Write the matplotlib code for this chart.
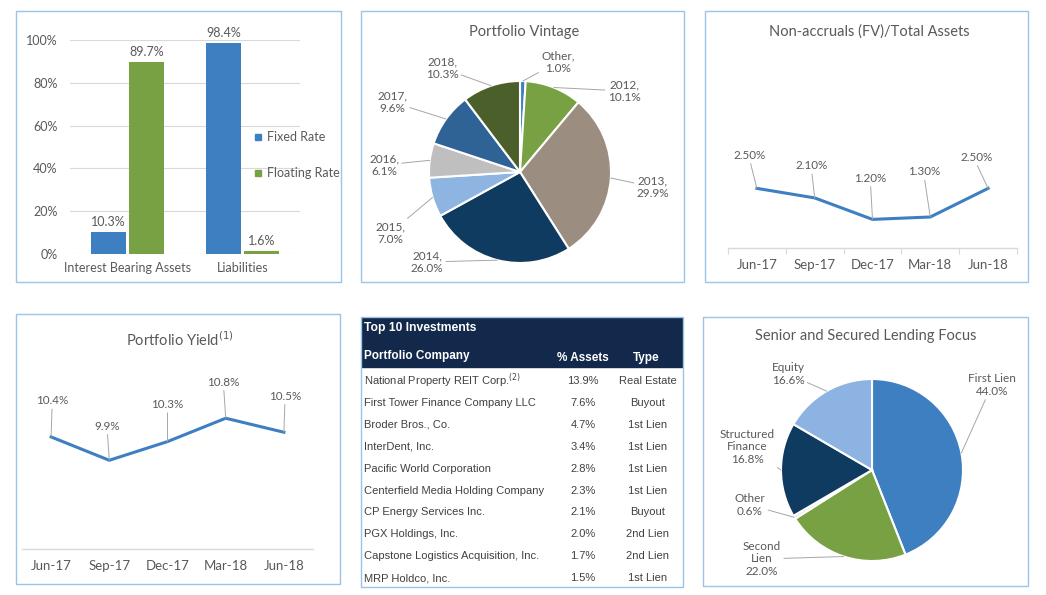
import numpy as np
import matplotlib
matplotlib.use('Agg')
import matplotlib.pyplot as plt
from matplotlib.patches import Rectangle
from matplotlib.lines import Line2D

plt.rcParams['font.family'] = ['Lato', 'DejaVu Sans']

# ---------------- data ----------------
rate_cats = ['Interest Bearing Assets', 'Liabilities']
fixed_rate = [10.3, 98.4]
floating_rate = [89.7, 1.6]

vintage_cats = ['Other', '2012', '2013', '2014', '2015', '2016', '2017', '2018']
vintage_vals = [1.0, 10.1, 29.9, 26.0, 7.0, 6.1, 9.6, 10.3]

quarters = ['Jun-17', 'Sep-17', 'Dec-17', 'Mar-18', 'Jun-18']
nonaccrual = [2.50, 2.10, 1.20, 1.30, 2.50]
port_yield = [10.4, 9.9, 10.3, 10.8, 10.5]

companies = ['National Property REIT Corp.$^{(2)}$', 'First Tower Finance Company LLC',
             'Broder Bros., Co.', 'InterDent, Inc.', 'Pacific World Corporation',
             'Centerfield Media Holding Company', 'CP Energy Services Inc.',
             'PGX Holdings, Inc.', 'Capstone Logistics Acquisition, Inc.', 'MRP Holdco, Inc.']
pct_assets = [13.9, 7.6, 4.7, 3.4, 2.8, 2.3, 2.1, 2.0, 1.7, 1.5]
inv_type = ['Real Estate', 'Buyout', '1st Lien', '1st Lien', '1st Lien', '1st Lien',
            'Buyout', '2nd Lien', '2nd Lien', '1st Lien']

lending_cats = ['First Lien', 'Second\nLien', 'Other', 'Structured\nFinance', 'Equity']
lending_vals = [44.0, 22.0, 0.6, 16.8, 16.6]

# ---------------- style ----------------
W, H = 1046, 595
gray = '#595959'
grid = '#D9D9D9'
border = '#9DC3E6'
lead = '#A6A6A6'
blue = '#3E7FC1'
green = '#78A143'
vintage_colors = ['#3E7FC1', '#78A143', '#9B8D80', '#0F3B60', '#8EB4E1', '#BFBFBF', '#2F6396', '#4B5F2A']
lending_colors = ['#3E7FC1', '#78A143', '#E7E6E6', '#0F3B60', '#8DB3E2']


def box(x0, y0, x1, y1):
    # image pixel coords (top-left origin) -> figure fraction rect
    return [x0 / W, 1 - y1 / H, (x1 - x0) / W, (y1 - y0) / H]


fig = plt.figure(figsize=(W / 100, H / 100), dpi=100)
fig.patch.set_facecolor('white')

for (x0, y0, x1, y1) in [(16, 11, 341, 282), (361, 11, 684, 282), (705, 11, 1028, 282),
                         (16, 314, 340, 584), (361, 317, 683, 587), (703, 317, 1028, 586)]:
    fig.add_artist(Rectangle((x0 / W, 1 - y1 / H), (x1 - x0) / W, (y1 - y0) / H,
                             transform=fig.transFigure, fill=False, ec=border, lw=1))

# ---------------- panel 1: bars ----------------
ax1 = fig.add_axes(box(70, 40, 300, 254))
x = np.arange(len(rate_cats))
b1 = ax1.bar(x - 0.165, fixed_rate, 0.31, color=blue, zorder=3)
b2 = ax1.bar(x + 0.165, floating_rate, 0.31, color=green, zorder=3)
for bars, vals in [(b1, fixed_rate), (b2, floating_rate)]:
    for r, v in zip(bars, vals):
        ax1.annotate(f'{v}%', (r.get_x() + r.get_width() / 2, v), xytext=(0, 4),
                     textcoords='offset pixels', ha='center', va='bottom', fontsize=9, color=gray)
ax1.set_xlim(-0.5, 1.5)
ax1.set_ylim(0, 100)
ax1.set_yticks(range(0, 101, 20))
ax1.set_yticklabels([f'{v}%' for v in range(0, 101, 20)])
ax1.set_xticks(x)
ax1.set_xticklabels(rate_cats)
ax1.grid(axis='y', color=grid, lw=0.8, zorder=0)
for s in ax1.spines.values():
    s.set_visible(False)
ax1.tick_params(axis='y', length=0, pad=9, labelsize=9, labelcolor=gray)
ax1.tick_params(axis='x', length=0, pad=6, labelsize=9, labelcolor=gray)
handles = [Line2D([], [], marker='s', ls='none', color=blue, markersize=4.5),
           Line2D([], [], marker='s', ls='none', color=green, markersize=4.5)]
fig.legend(handles, ['Fixed Rate', 'Floating Rate'], loc='center left',
           bbox_to_anchor=(242 / W, 1 - 155 / H), frameon=False, handletextpad=0.3,
           labelspacing=1.9, handlelength=0.8, fontsize=9, labelcolor=gray)

# ---------------- pies ----------------
def draw_pie(rect, vals, colors, labels, label_pos):
    ax = fig.add_axes(box(*rect))
    ax.pie(vals, colors=colors, startangle=90, counterclock=False,
           wedgeprops=dict(edgecolor='white', linewidth=1.5))
    ax.set_xlim(-1, 1)
    ax.set_ylim(-1, 1)
    ax.set_aspect('equal')
    cum = np.cumsum([0] + list(vals))
    tot = cum[-1]
    for i, (lab, (px, py)) in enumerate(zip(labels, label_pos)):
        th = np.radians(90 - 360 * (cum[i] + vals[i] / 2) / tot)
        ax.annotate(lab, (np.cos(th), np.sin(th)), xytext=(px, H - py), textcoords='figure pixels',
                    ha='center', va='center', fontsize=8.5, color=gray, linespacing=1.2,
                    arrowprops=dict(arrowstyle='-', color=lead, lw=0.7, shrinkA=0, shrinkB=0),
                    annotation_clip=False)
    return ax


vint_labels = [f'{c},\n{v:.1f}%' for c, v in zip(vintage_cats, vintage_vals)]
vint_pos = [(558, 62), (624, 91), (653, 187), (427, 262), (390, 233), (384, 165), (392, 102), (442, 68)]
draw_pie((429, 81, 611, 263), vintage_vals, vintage_colors, vint_labels, vint_pos)
fig.text(524 / W, 1 - 32 / H, 'Portfolio Vintage', ha='center', va='center', fontsize=10.5, color=gray)

lend_labels = [f'{c}\n{v:.1f}%' for c, v in zip(lending_cats, lending_vals)]
lend_pos = [(992, 385), (762, 559), (750, 505), (747, 447), (788, 374)]
draw_pie((781, 379, 963, 561), lending_vals, lending_colors, lend_labels, lend_pos)
fig.text(866 / W, 1 - 336 / H, 'Senior and Secured Lending Focus', ha='center', va='center',
         fontsize=10.5, color=gray)

# ---------------- line charts ----------------
def draw_line(rect, vals, ylim, fmt, offsets, ticks_between):
    ax = fig.add_axes(box(*rect))
    xs = np.arange(len(vals))
    ax.plot(xs, vals, color=blue, lw=2.2, solid_joinstyle='miter')
    for xi, v, (dx, dy) in zip(xs, vals, offsets):
        ax.annotate(fmt.format(v), (xi, v), xytext=(dx, dy), textcoords='offset pixels',
                    ha='center', va='center', fontsize=8.4, color=gray,
                    arrowprops=dict(arrowstyle='-', color=lead, lw=0.7, shrinkA=0, shrinkB=0,
                                    relpos=(0.5, 0.0)))
    ax.set_xlim(-0.5, len(vals) - 0.5)
    ax.set_ylim(*ylim)
    ax.set_yticks([])
    for k in ['top', 'left', 'right']:
        ax.spines[k].set_visible(False)
    ax.spines['bottom'].set_color(grid)
    ax.spines['bottom'].set_linewidth(1)
    ax.set_facecolor('none')
    if ticks_between:
        ax.set_xticks(np.arange(-0.5, len(vals), 1.0))
        ax.set_xticklabels([])
        ax.tick_params(axis='x', which='major', length=4, color=grid)
    else:
        ax.set_xticks([])
    ax.set_xticks(xs, minor=True)
    ax.set_xticklabels(quarters, minor=True)
    ax.tick_params(axis='x', which='minor', length=0, pad=8, labelsize=9.5, labelcolor=gray)
    return ax


draw_line((728, 80, 1017, 248), nonaccrual, (0, 168 / 23.85), '{:.2f}%',
          [(-7, 33), (-3, 32), (-2, 41), (-6, 45), (-12, 31)], True)
fig.text(869 / W, 1 - 32 / H, 'Non-accruals (FV)/Total Assets', ha='center', va='center',
         fontsize=10.5, color=gray)

draw_line((22, 380, 313, 549), port_yield, (8, 8 + 169 / 46.7), '{:.1f}%',
          [(1, 36), (-2, 34), (0, 37), (-2, 36), (1, 36)], False)
fig.text(180 / W, 1 - 340 / H, 'Portfolio Yield$^{(1)}$', ha='center', va='center',
         fontsize=10.5, color=gray)

# ---------------- table ----------------
ax5 = fig.add_axes(box(361, 317, 683, 587))
ax5.set_xlim(361, 683)
ax5.set_ylim(587, 317)
ax5.axis('off')
ax5.add_patch(Rectangle((361, 317), 322, 50, color='#13294B', zorder=1))
tfont = ['Liberation Sans', 'DejaVu Sans']
ax5.text(364, 328, 'Top 10 Investments', color='white', fontweight='bold', fontsize=8.7,
         va='center', ha='left', family=tfont, zorder=2)
ax5.text(364, 356, 'Portfolio Company', color='white', fontweight='bold', fontsize=8.5,
         va='center', ha='left', family=tfont, zorder=2)
ax5.text(583, 358, '% Assets', color='white', fontweight='bold', fontsize=8.5,
         va='center', ha='center', family=tfont, zorder=2)
ax5.text(646, 358, 'Type', color='white', fontweight='bold', fontsize=8.5,
         va='center', ha='center', family=tfont, zorder=2)
for i, (c, p, t) in enumerate(zip(companies, pct_assets, inv_type)):
    yy = 381 + i * 21.9
    ax5.text(364, yy, c, color='#404040', fontsize=8.0, va='center', ha='left', family=tfont)
    ax5.text(583, yy, f'{p:.1f}%', color='#404040', fontsize=8.0, va='center', ha='center', family=tfont)
    ax5.text(648, yy, t, color='#404040', fontsize=8.0, va='center', ha='center', family=tfont)

fig.savefig('out.png', dpi=100, facecolor='white')
